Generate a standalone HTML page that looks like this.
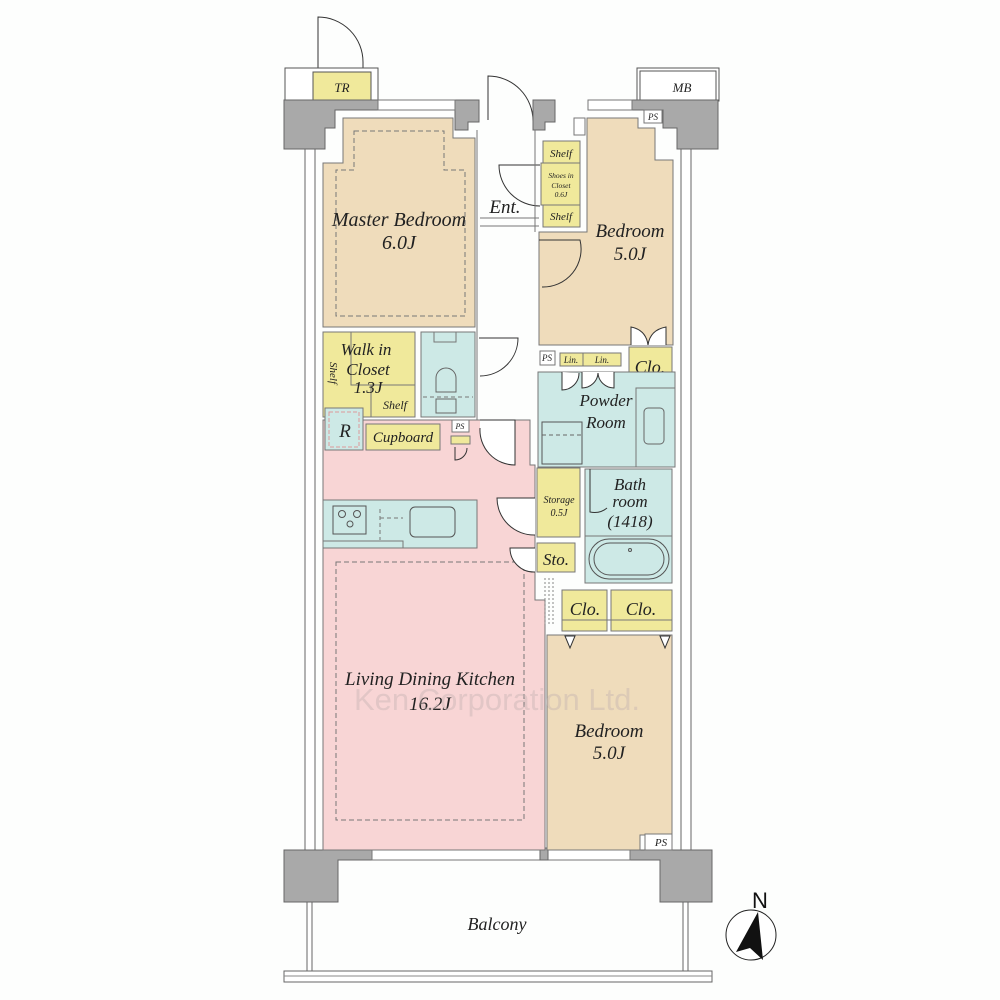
<!DOCTYPE html>
<html><head><meta charset="utf-8"><style>
html,body{margin:0;padding:0;background:#fff}
svg{display:block}
.t{font-family:"Liberation Serif",serif;font-style:italic;fill:#222;text-anchor:middle}
</style></head><body>
<svg width="1000" height="1000" viewBox="0 0 1000 1000" xmlns="http://www.w3.org/2000/svg">
<rect width="1000" height="1000" fill="#fdfefd"/>
<path d="M318,100 V17 A45,45 0 0 1 363,62 V100" fill="none" stroke="#333" stroke-width="1"/>
<rect x="285" y="68" width="93" height="33" fill="#fff" stroke="#555"/>
<rect x="313" y="72" width="58" height="29" fill="#f0e99b" stroke="#555"/>
<text class="t" x="342" y="92" font-size="13">TR</text>
<rect x="637" y="68" width="82" height="33" fill="#fff" stroke="#555"/>
<rect x="640" y="71" width="76" height="30" fill="#fff" stroke="#555"/>
<text class="t" x="682" y="92" font-size="13">MB</text>
<path d="M488,120 V76 A45,45 0 0 1 533,121" fill="none" stroke="#333"/>
<rect x="305" y="140" width="10" height="712" fill="#fff" stroke="#666"/>
<rect x="681" y="140" width="10" height="712" fill="#fff" stroke="#666"/>
<path d="M284,100 H378 V110 H335 V128 H325 V149 H284 Z" fill="#a9a9a9" stroke="#666"/>
<path d="M455,100 H479 V122 H468 V130 H455 Z" fill="#a9a9a9" stroke="#666"/>
<path d="M533,122 V130 H545 V122 H555 V100 H533 Z" fill="#a9a9a9" stroke="#666"/>
<path d="M632,100 H718 V149 H677 V128 H663 V110 H632 Z" fill="#a9a9a9" stroke="#666"/>
<rect x="378" y="100" width="77" height="10" fill="#fff" stroke="#777"/>
<rect x="588" y="100" width="44" height="10" fill="#fff" stroke="#777"/>
<path d="M284,850 H372 V860 H338 V902 H284 Z" fill="#a9a9a9" stroke="#666"/>
<path d="M630,850 H712 V902 H660 V860 H630 Z" fill="#a9a9a9" stroke="#666"/>
<rect x="372" y="850" width="258" height="10" fill="#fff" stroke="#777"/>
<rect x="540" y="848" width="8" height="12" fill="#a9a9a9" stroke="#666"/>
<rect x="307" y="902" width="5" height="70" fill="#fff" stroke="#666"/>
<rect x="683" y="902" width="5" height="70" fill="#fff" stroke="#666"/>
<rect x="284" y="971" width="428" height="11" fill="#fff" stroke="#666"/>
<line x1="284" y1="976" x2="712" y2="976" stroke="#888"/>
<text class="t" x="497" y="930" font-size="18">Balcony</text>
<path d="M323,163 H343 V118 H453 V138 H475 V327 H323 Z" fill="#efdcbb" stroke="#777"/>
<path d="M354,131 H444 V170 H465 V316 H336 V170 H354 Z" fill="none" stroke="#777" stroke-dasharray="5,3"/>
<text class="t" x="399" y="226" font-size="20">Master Bedroom</text>
<text class="t" x="399" y="249" font-size="20">6.0J</text>
<rect x="323" y="332" width="92" height="85" fill="#f0e99b" stroke="#777"/>
<path d="M351,332 V385 H415 M371,385 V417" fill="none" stroke="#777"/>
<text class="t" x="366" y="355" font-size="17">Walk in</text>
<text class="t" x="368" y="375" font-size="17">Closet</text>
<text class="t" x="368" y="393" font-size="17">1.3J</text>
<text class="t" x="395" y="409" font-size="12">Shelf</text>
<text class="t" font-size="11" transform="translate(330,373) rotate(90)">Shelf</text>
<rect x="421" y="332" width="54" height="85" fill="#cde9e6" stroke="#777"/>
<rect x="434" y="332" width="22" height="10" fill="#cde9e6" stroke="#777"/>
<path d="M436,392 V378 A10,10 0 0 1 456,378 V392 Z" fill="none" stroke="#666"/>
<rect x="436" y="399" width="20" height="14" fill="none" stroke="#666"/>
<line x1="423" y1="397" x2="473" y2="397" stroke="#777" stroke-dasharray="4,3"/>
<path d="M479,338 H518 A38,38 0 0 1 480,376" fill="none" stroke="#333"/>
<line x1="480" y1="218" x2="539" y2="218" stroke="#777"/>
<line x1="480" y1="226" x2="539" y2="226" stroke="#777"/>
<text class="t" x="505" y="213" font-size="19">Ent.</text>
<path d="M540,165 H499 A41,41 0 0 0 540,206" fill="none" stroke="#333"/>
<line x1="477" y1="130" x2="477" y2="420" stroke="#777"/>
<line x1="535" y1="130" x2="535" y2="232" stroke="#777"/>
<rect x="543" y="141" width="37" height="22" fill="#f0e99b" stroke="#777"/>
<rect x="541" y="163" width="39" height="42" fill="#f0e99b" stroke="#777"/>
<rect x="543" y="205" width="37" height="22" fill="#f0e99b" stroke="#777"/>
<text class="t" x="561" y="157" font-size="11">Shelf</text>
<text class="t" x="561" y="178" font-size="7.5">Shoes in</text>
<text class="t" x="561" y="188" font-size="7.5">Closet</text>
<text class="t" x="561" y="197" font-size="7.5">0.6J</text>
<text class="t" x="561" y="220" font-size="11">Shelf</text>
<rect x="574" y="118" width="11" height="17" fill="#fff" stroke="#777"/>
<rect x="644" y="110" width="18" height="13" fill="#fff" stroke="#777"/>
<text class="t" x="653" y="120" font-size="9">PS</text>
<path d="M587,118 H638 V128 H655 V160 H673 V345 H539 V232 H587 Z" fill="#efdcbb" stroke="#777"/>
<path d="M539,240 H580 A38,38 0 0 1 542,287" fill="none" stroke="#333"/>
<path d="M631,345 V327 Q646,330 648,345 M666,345 V327 Q650,330 648,345" fill="#fff" stroke="#333"/>
<text class="t" x="630" y="237" font-size="19">Bedroom</text>
<text class="t" x="630" y="260" font-size="19">5.0J</text>
<rect x="629" y="347" width="43" height="36" fill="#f0e99b" stroke="#777"/>
<text class="t" x="650" y="373" font-size="18">Clo.</text>
<rect x="540" y="351" width="15" height="14" fill="#fff" stroke="#777"/>
<text class="t" x="547" y="361" font-size="9">PS</text>
<rect x="560" y="353" width="61" height="13" fill="#f0e99b" stroke="#777"/>
<line x1="583" y1="353" x2="583" y2="366" stroke="#777"/>
<text class="t" x="571" y="363" font-size="9">Lin.</text>
<text class="t" x="602" y="363" font-size="9">Lin.</text>
<rect x="538" y="372" width="137" height="95" fill="#cde9e6" stroke="#777"/>
<rect x="636" y="388" width="39" height="79" fill="#cde9e6" stroke="#777"/>
<rect x="644" y="408" width="20" height="36" rx="4" fill="none" stroke="#666"/>
<path d="M562,372 V390 A17,17 0 0 0 579,373 M582,372 V388 A16,16 0 0 0 598,373 A16,16 0 0 0 614,388 V372" fill="#fff" stroke="#333"/>
<rect x="542" y="422" width="40" height="42" fill="none" stroke="#555"/>
<line x1="542" y1="435" x2="582" y2="435" stroke="#666" stroke-dasharray="4,3"/>
<text class="t" x="606" y="406" font-size="17">Powder</text>
<text class="t" x="606" y="428" font-size="17">Room</text>
<path d="M323,420 H530 V465 H535 V600 H545 V850 H323 Z" fill="#f8d5d5" stroke="#777"/>
<rect x="323" y="500" width="154" height="48" fill="#cde9e6" stroke="#777"/>
<path d="M403,548 V541 H323" fill="none" stroke="#777"/>
<rect x="333" y="506" width="33" height="28" fill="none" stroke="#555"/>
<circle cx="342" cy="514" r="3.5" fill="none" stroke="#555"/>
<circle cx="357" cy="514" r="3.5" fill="none" stroke="#555"/>
<circle cx="350" cy="524" r="3" fill="none" stroke="#555"/>
<rect x="410" y="507" width="45" height="30" rx="5" fill="none" stroke="#555"/>
<path d="M380,509 V540 M380,518 H403" fill="none" stroke="#777" stroke-dasharray="4,3"/>
<path d="M336,562 H524 V820 H336 Z" fill="none" stroke="#777" stroke-dasharray="5,3"/>
<rect x="325" y="408" width="38" height="42" fill="#cde9e6" stroke="#777"/>
<rect x="329" y="412" width="30" height="35" fill="none" stroke="#d99" stroke-dasharray="4,2"/>
<text class="t" x="345" y="437" font-size="19">R</text>
<rect x="366" y="424" width="74" height="26" fill="#f0e99b" stroke="#777"/>
<text class="t" x="403" y="442" font-size="15">Cupboard</text>
<rect x="452" y="420" width="17" height="12" fill="#fff" stroke="#777"/>
<text class="t" x="460" y="429" font-size="8">PS</text>
<rect x="451" y="436" width="19" height="8" fill="#f0e99b" stroke="#777"/>
<path d="M455,447 V460 A12,12 0 0 0 467,448" fill="none" stroke="#333"/>
<path d="M480,420 H515 V465 A35,35 0 0 1 480,428" fill="#fff" stroke="#333"/>
<path d="M535,498 H497 A37,37 0 0 0 535,535" fill="#fff" stroke="#333"/>
<path d="M535,548 H510 A24,24 0 0 0 535,572" fill="#fff" stroke="#333"/>
<g stroke="#888" stroke-dasharray="2,2"><line x1="545" y1="578" x2="545" y2="625"/><line x1="549" y1="578" x2="549" y2="625"/><line x1="553" y1="578" x2="553" y2="625"/></g>
<rect x="537" y="468" width="43" height="69" fill="#f0e99b" stroke="#777"/>
<text class="t" x="559" y="503" font-size="10">Storage</text>
<text class="t" x="559" y="516" font-size="10">0.5J</text>
<rect x="537" y="543" width="38" height="29" fill="#f0e99b" stroke="#777"/>
<text class="t" x="556" y="565" font-size="17">Sto.</text>
<rect x="585" y="469" width="87" height="114" fill="#cde9e6" stroke="#777"/>
<line x1="585" y1="536" x2="672" y2="536" stroke="#777"/>
<rect x="589" y="539" width="80" height="40" rx="20" fill="none" stroke="#555"/>
<rect x="594" y="543" width="70" height="32" rx="16" fill="none" stroke="#555"/>
<circle cx="630" cy="550" r="1.5" fill="none" stroke="#555"/>
<path d="M590,469 V512 Q600,514 607,508" fill="none" stroke="#333"/>
<text class="t" x="630" y="490" font-size="17">Bath</text>
<text class="t" x="630" y="507" font-size="17">room</text>
<text class="t" x="630" y="527" font-size="17">(1418)</text>
<rect x="562" y="590" width="45" height="41" fill="#f0e99b" stroke="#777"/>
<rect x="611" y="590" width="61" height="41" fill="#f0e99b" stroke="#777"/>
<line x1="562" y1="620" x2="672" y2="620" stroke="#777"/>
<text class="t" x="585" y="615" font-size="18">Clo.</text>
<text class="t" x="641" y="615" font-size="18">Clo.</text>
<path d="M547,635 H672 V835 H640 V850 H547 Z" fill="#efdcbb" stroke="#777"/>
<path d="M565,636 L570,648 L575,636 Z M660,636 L665,648 L670,636 Z" fill="#fff" stroke="#333"/>
<rect x="645" y="834" width="27" height="16" fill="#fff" stroke="#777"/>
<text class="t" x="661" y="846" font-size="11">PS</text>
<text class="t" x="609" y="737" font-size="19">Bedroom</text>
<text class="t" x="609" y="759" font-size="19">5.0J</text>
<text class="t" x="430" y="685" font-size="19">Living Dining Kitchen</text>
<text class="t" x="430" y="710" font-size="19">16.2J</text>
<text x="497" y="710" font-family="Liberation Sans,sans-serif" font-size="31" fill="#c0b0b0" fill-opacity="0.4" text-anchor="middle">Ken Corporation Ltd.</text>
<circle cx="751" cy="935" r="25" fill="#fff" stroke="#222"/>
<path d="M758,912 L736,952 L750,948 L763,960 Z" fill="#111"/>
<text x="760" y="908" font-family="Liberation Sans,sans-serif" font-size="22" fill="#111" text-anchor="middle">N</text>
</svg>
</body></html>
